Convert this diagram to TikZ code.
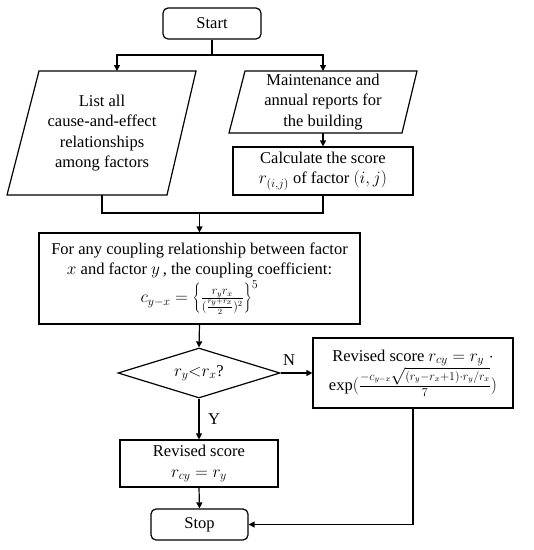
\documentclass[tikz,border=0pt]{standalone}
\usepackage{fontspec}
\setmainfont{Liberation Serif}
\usetikzlibrary{arrows.meta,shapes.geometric}
\begin{document}
\begin{tikzpicture}[x=1pt,y=-1pt,
  line width=1.2pt,
  every node/.style={font=\fontsize{16.5}{20.5}\selectfont, align=center, inner sep=0pt},
  box/.style={draw, rectangle},
  term/.style={draw, rounded corners=5pt},
  dec/.style={draw, diamond, aspect=3.2},
  arr/.style={-{Triangle[length=6pt,width=6pt]}},
  lbl/.style={font=\fontsize{16.5}{20.5}\selectfont}]
\useasboundingbox (0,0) rectangle (534,550);
% nodes
\node[term, minimum width=98pt, minimum height=31pt] (start) at (212,23.5) {Start};
\draw (39,71) -- (196,71) -- (167,195) -- (7,195) -- cycle;
\node (list) at (102,133) {List all\\cause-and-effect\\relationships\\among factors};
\draw (245,71) -- (417,71) -- (402,133) -- (229,133) -- cycle;
\node (maint) at (323,102) {Maintenance and\\annual reports for\\the building};
\node[box, minimum width=180pt, minimum height=48pt] (calc) at (323,171) {Calculate the score\\$r_{(i,j)}$ of factor $(i,j)$};
\node[box, minimum width=321pt, minimum height=91pt] (for) at (199.5,278.5) {For any coupling relationship between factor\\$x$ and factor $y$\,, the coupling coefficient:\\[1pt]$c_{y-x}=\left\{\frac{r_yr_x}{(\frac{r_y+r_x}{2})^2}\right\}^{5}$};
\node[dec, minimum width=162pt, minimum height=50pt] (dec) at (199,373) {$r_y{<}r_x$?};
\node[box, minimum width=200pt, minimum height=70pt] (rev2) at (413,373) {Revised score $r_{cy}=r_y\;\cdot$\\$\exp(\frac{-c_{y-x}\sqrt{(r_y-r_x+1)\cdot r_y/r_x}}{7})$};
\node[box, minimum width=158pt, minimum height=47pt] (rev1) at (199,463.5) {Revised score\\$r_{cy}=r_y$};
\node[term, minimum width=97pt, minimum height=31pt] (stop) at (199.5,524.5) {Stop};
\node[lbl] (nlab) at (289,360) {N};
\node[lbl] (ylab) at (214,419) {Y};
% coordinates
\coordinate (j1) at (212,55);
\coordinate (listtop) at (117,71);
\coordinate (mainttop) at (323,71);
\coordinate (maintbot) at (323,133);
\coordinate (listbot) at (102,195);
\coordinate (j2) at (199.5,213);
% connectors
\draw (start.south) -- (j1);
\draw[arr] (j1) -| (listtop);
\draw[arr] (j1) -| (mainttop);
\draw[arr] (maintbot) -- (calc.north);
\draw (listbot) -- (listbot |- j2) -- (calc.south |- j2) -- (calc.south);
\draw[arr] (j2) -- (for.north);
\draw[arr] (for.south) -- (dec.north);
\draw[arr] (dec.east) -- (rev2.west);
\draw[arr] (dec.south) -- (rev1.north);
\draw[arr] (rev1.south) -- (stop.north);
\draw[arr] (rev2.south) |- (stop.east);
\end{tikzpicture}
\end{document}
